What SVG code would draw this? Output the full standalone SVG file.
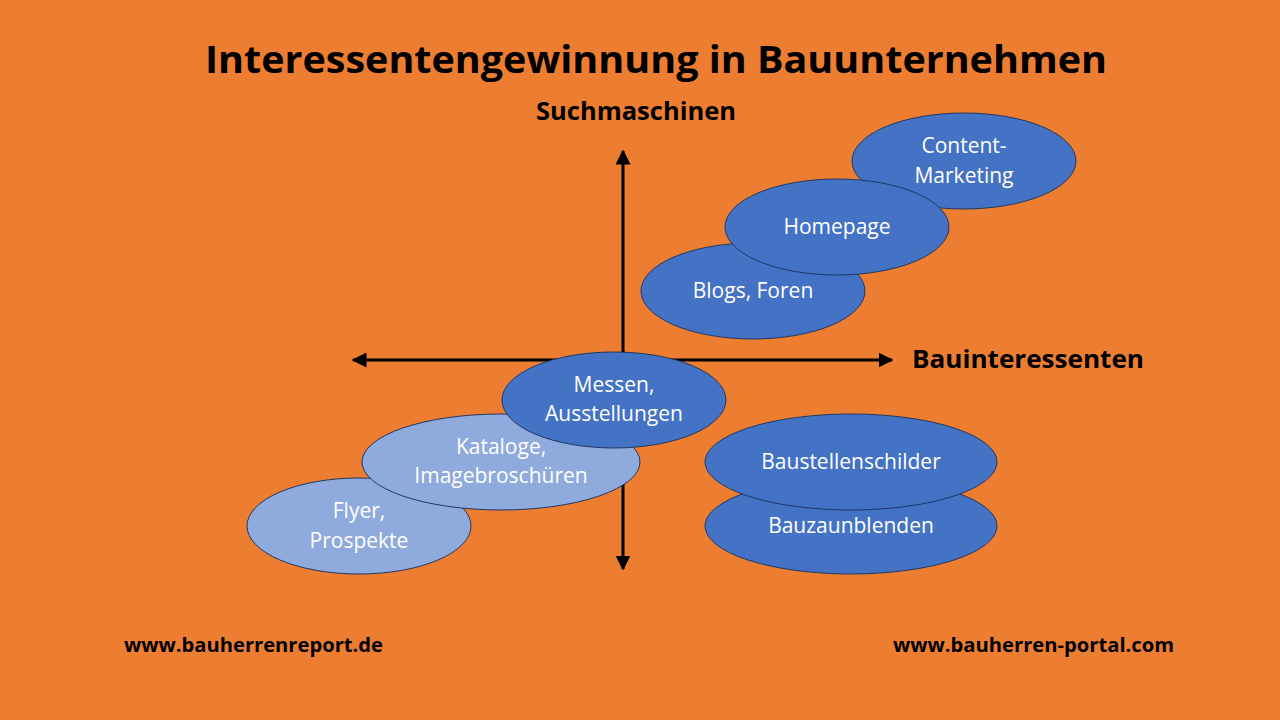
<svg xmlns="http://www.w3.org/2000/svg" width="1280" height="720" viewBox="0 0 1280 720">
<defs>
<marker id="ah" viewBox="0 0 10 10" refX="9" refY="5" markerWidth="5" markerHeight="5" orient="auto-start-reverse" markerUnits="strokeWidth">
<path d="M0,0 L10,5 L0,10 z" fill="#000"/>
</marker>
<style>
.bg{fill:#ED7D31}
.dk{fill:#4472C4;stroke:#1F3864;stroke-width:1}
.lt{fill:#8FAADC;stroke:#1F3864;stroke-width:1}
.lbl{font-family:"Open Sans","Liberation Sans",sans-serif;font-size:21px;fill:#fff;text-anchor:middle}
.hd{font-family:"Open Sans","Liberation Sans",sans-serif;font-weight:bold;fill:#000}
.ax{stroke:#000;stroke-width:3;fill:none}
</style>
</defs>
<rect class="bg" x="0" y="0" width="1280" height="720"/>
<text class="hd" x="656" y="73" font-size="38" text-anchor="middle" textLength="902" lengthAdjust="spacingAndGlyphs">Interessentengewinnung in Bauunternehmen</text>
<text class="hd" x="636" y="120" font-size="25" text-anchor="middle" textLength="200" lengthAdjust="spacingAndGlyphs">Suchmaschinen</text>
<text class="hd" x="912" y="368" font-size="25" textLength="232" lengthAdjust="spacingAndGlyphs">Bauinteressenten</text>
<text class="hd" x="124" y="652" font-size="19" textLength="259" lengthAdjust="spacingAndGlyphs">www.bauherrenreport.de</text>
<text class="hd" x="893" y="652" font-size="19" textLength="281" lengthAdjust="spacingAndGlyphs">www.bauherren-portal.com</text>
<g id="connectors">
<line class="ax" x1="623" y1="569" x2="623" y2="151" marker-start="url(#ah)" marker-end="url(#ah)"/>
<line class="ax" x1="353" y1="360" x2="892" y2="360" marker-start="url(#ah)" marker-end="url(#ah)"/>
</g>
<g id="content-marketing">
<ellipse class="dk" cx="964" cy="161" rx="112" ry="48"/>
<text class="lbl" x="964" y="153">Content-</text>
<text class="lbl" x="964" y="183">Marketing</text>
</g>
<g id="blogs">
<ellipse class="dk" cx="753" cy="291" rx="112" ry="48"/>
<text class="lbl" x="753" y="298">Blogs, Foren</text>
</g>
<g id="homepage">
<ellipse class="dk" cx="837" cy="227" rx="112" ry="48"/>
<text class="lbl" x="837" y="234">Homepage</text>
</g>
<g id="flyer">
<ellipse class="lt" cx="359" cy="526" rx="112" ry="48"/>
<text class="lbl" x="359" y="518">Flyer,</text>
<text class="lbl" x="359" y="548">Prospekte</text>
</g>
<g id="kataloge">
<ellipse class="lt" cx="501" cy="462" rx="139" ry="48"/>
<text class="lbl" x="501" y="454">Kataloge,</text>
<text class="lbl" x="501" y="483">Imagebroschüren</text>
</g>
<g id="messen">
<ellipse class="dk" cx="614" cy="400" rx="112" ry="48"/>
<text class="lbl" x="614" y="392">Messen,</text>
<text class="lbl" x="614" y="421">Ausstellungen</text>
</g>
<g id="bauzaunblenden">
<ellipse class="dk" cx="851" cy="526" rx="146" ry="48"/>
<text class="lbl" x="851" y="533">Bauzaunblenden</text>
</g>
<g id="baustellenschilder">
<ellipse class="dk" cx="851" cy="462" rx="146" ry="48"/>
<text class="lbl" x="851" y="469">Baustellenschilder</text>
</g>
</svg>
